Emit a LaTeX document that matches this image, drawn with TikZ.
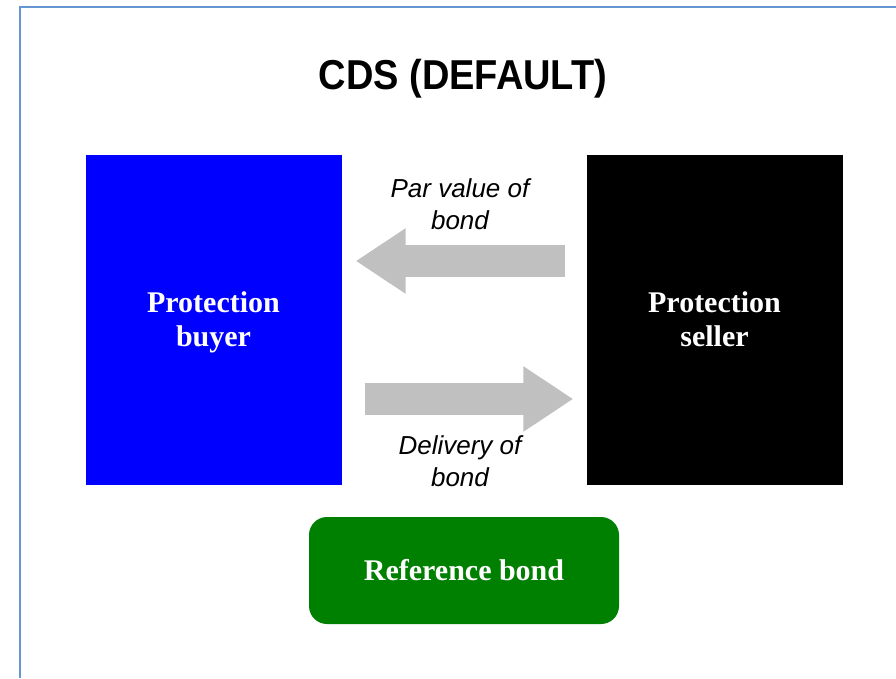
\documentclass[tikz,border=0pt]{standalone}
\usepackage{fontspec}
\setmainfont{Liberation Serif}
\setsansfont{Liberation Sans}
\usetikzlibrary{arrows.meta,positioning}
\definecolor{framecol}{RGB}{100,150,210}
\definecolor{arrowgray}{RGB}{192,192,192}
\definecolor{bondgreen}{RGB}{0,128,0}

\begin{document}
\begin{tikzpicture}[x=1pt, y=-1pt]
		\tikzset{party/.style={minimum width=256pt, minimum height=330pt, inner sep=0pt, align=center, text=white,
				font=\fontsize{30}{34}\selectfont\bfseries},
			flow/.style={line width=32pt, arrowgray, -{Triangle[length=50pt, width=62pt]}},
			flowlabel/.style={font=\fontsize{26}{32}\selectfont\sffamily\itshape, align=center}}
		\useasboundingbox (0,0) rectangle (896,678);
		\draw [framecol, line width=2.5pt] (20,678) -- (20,7) -- (896,7);
		\node [font=\fontsize{38}{40}\selectfont\sffamily\bfseries] (title) at (463,79) {\scalebox{1}[1.1]{CDS (DEFAULT)}};
		\node [party, fill=blue] (buyer) at (213.5,320) {\rule{0pt}{30pt}Protection\\buyer\strut};
		\node [party, fill=black] (seller) at (714.5,320) {\rule{0pt}{30pt}Protection\\seller\strut};
		\node [party, fill=bondgreen, minimum width=310pt, minimum height=107pt, rounded corners=18pt] (refbond) at (464,570.5) {Reference bond};
		\draw [flow] ([xshift=-21pt, yshift=59pt]seller.west) -- ([xshift=14pt, yshift=59pt]buyer.east);
		\draw [flow] ([xshift=23pt, yshift=-79pt]buyer.east) -- ([xshift=-13pt, yshift=-79pt]seller.west);
		\node [flowlabel] (parlabel) at (460,204) {Par value of\\bond};
		\node [flowlabel] (dellabel) at (460,461) {Delivery of\\bond};
	\end{tikzpicture}
\end{document}
